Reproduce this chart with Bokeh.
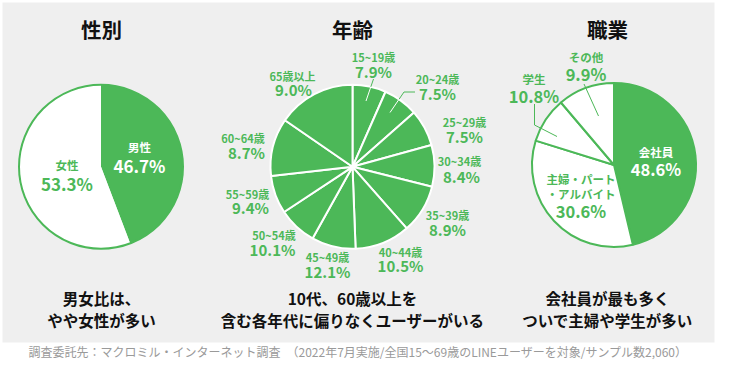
import numpy as np
from bokeh.plotting import figure
from bokeh.models import Range1d
from bokeh.embed import file_html
from bokeh.resources import INLINE
from bokeh.core.properties import value

# ---------------- data ----------------
titles = ["性別", "年齢", "職業"]

gender_names = ["男性", "女性"]
gender_pct = [46.7, 53.3]            # printed values
gender_drawn = [44.2, 55.8]          # slice sizes as drawn in the reference

age_names = ["15~19歳", "20~24歳", "25~29歳", "30~34歳", "35~39歳", "40~44歳",
             "45~49歳", "50~54歳", "55~59歳", "60~64歳", "65歳以上"]
age_pct = [7.9, 7.5, 7.5, 8.4, 8.9, 10.5, 12.1, 10.1, 9.4, 8.7, 9.0]
age_drawn = [6.6, 6.9, 7.2, 8.2, 9.6, 10.9, 8.7, 7.6, 7.5, 11.4, 15.4]

job_names = [["会社員"], ["主婦・パート", "・アルバイト"], ["学生"], ["その他"]]
job_pct = [48.6, 30.6, 10.8, 9.9]
job_drawn = [46.3, 33.5, 9.0, 11.2]

captions = [["男女比は、", "やや女性が多い"],
            ["10代、60歳以上を", "含む各年代に偏りなくユーザーがいる"],
            ["会社員が最も多く", "ついで主婦や学生が多い"]]
footer = "調査委託先：マクロミル・インターネット調査　（2022年7月実施/全国15～69歳のLINEユーザーを対象/サンプル数2,060）"

# ---------------- style / layout ----------------
GREEN = "#4CB858"
PANEL = "#EFEFEF"
FONT = value("Noto Sans CJK JP")
R = 82
CENTERS = [(108.5, 174.3), (360, 174.3), (621.5, 172.5)]   # page pixel coords
TITLE_X = [109, 360, 615]
CAP_X = [109, 360, 615]

W, H = 718, 372
p = figure(width=W, height=H, x_range=Range1d(8, 8 + W), y_range=Range1d(8, 8 + H),
           output_backend="svg", toolbar_location=None, min_border=0)
p.axis.visible = False
p.grid.visible = False
p.outline_line_color = None
p.background_fill_color = "white"
p.border_fill_color = "white"


def Y(sy):
    return 388 - sy


def txt(xs, ys, texts, size, color, bold=True, align="center"):
    p.text(x=list(xs), y=[Y(v) for v in ys], text=list(texts), text_font=FONT,
           text_font_size=size, text_font_style="bold" if bold else "normal",
           text_color=color, text_align=align, text_baseline="middle")


def angles(shares):
    c = np.concatenate([[0], np.cumsum(shares)]) / float(np.sum(shares))
    return np.pi / 2 - 2 * np.pi * c[:-1], np.pi / 2 - 2 * np.pi * c[1:]


def split_at_circle(pts, cx, cy, r):
    """split polyline (page coords) into outside / inside part of circle"""
    a = np.array(pts[-2], float); b = np.array(pts[-1], float)
    ts = np.linspace(0, 1, 400)
    seg = a[None, :] + (b - a)[None, :] * ts[:, None]
    d = np.hypot(seg[:, 0] - cx, seg[:, 1] - cy)
    k = int(np.argmax(d <= r))
    cross = tuple(seg[k])
    return list(pts[:-1]) + [cross], [cross, tuple(b)]


# background panel
p.quad(left=10, right=722, top=Y(10), bottom=Y(350), fill_color=PANEL, line_color=None)

# ---- gender pie ----
cx, cy = CENTERS[0]
s, e = angles(gender_drawn)
p.wedge(x=cx, y=Y(cy), radius=R, start_angle=s, end_angle=e, direction="clock",
        fill_color=[GREEN, "white"], line_color=None)
p.circle(x=cx, y=Y(cy), radius=R, fill_color=None, line_color=GREEN, line_width=2)
g_pos = [(147, 154.5), (74.5, 172.5)]
g_col = ["white", GREEN]
for (x, y), n, v, c in zip(g_pos, gender_names, gender_pct, g_col):
    txt([x], [y], [n], "11.5px", c)
    txt([x], [y + 18], [f"{v:.1f}%"], "17px", c)

# ---- age pie ----
cx, cy = CENTERS[1]
s, e = angles(age_drawn)
p.wedge(x=cx, y=Y(cy), radius=R, start_angle=s, end_angle=e, direction="clock",
        fill_color=GREEN, line_color="white", line_width=2)
a_name = [(381, 64), (445, 86), (472, 129.5), (467, 168.5), (455, 222.5), (408, 259.5),
          (335, 264.5), (281.5, 242.5), (255, 201), (250.5, 145.5), (300, 83)]
a_val = [(381, 78.5), (445, 100.7), (472, 144), (469, 183.5), (455, 237), (408, 273),
         (335, 279), (280, 257), (258, 215), (254, 159.5), (301, 97)]
for (x, y), n in zip(a_name, age_names):
    txt([x], [y], [n], "11px", GREEN)
for (x, y), v in zip(a_val, age_pct):
    txt([x], [y], [f"{v:.1f}%"], "15px", GREEN)
for poly in [[(381, 86.5), (373.5, 108.5)],
             [(422.5, 99.5), (411.5, 99.5), (397.5, 120)]]:
    out, ins = split_at_circle(poly, cx, cy, R)
    p.line([q[0] for q in out], [Y(q[1]) for q in out], line_color=GREEN, line_width=1)
    p.line([q[0] for q in ins], [Y(q[1]) for q in ins], line_color="white", line_width=1)

# ---- occupation pie ----
cx, cy = CENTERS[2]
s, e = angles(job_drawn)
p.wedge(x=cx, y=Y(cy), radius=R, start_angle=s, end_angle=e, direction="clock",
        fill_color=[GREEN, "white", "white", "white"], line_color=GREEN, line_width=2)
j_pos = [(663.5, 159), (588.5, 186.5), (541.5, 86), (593.5, 64)]
j_col = ["white", GREEN, GREEN, GREEN]
for (x, y), names, v, c in zip(j_pos, job_names, job_pct, j_col):
    for i, n in enumerate(names):
        txt([x], [y + 15 * i], [n], "11.5px", c)
    txt([x], [y + 15 * len(names) + 2], [f"{v:.1f}%"], "16.5px", c)
for poly in [[(542, 111.5), (542, 132.5), (564.5, 144)],
             [(591.5, 91.5), (606, 123.5)]]:
    p.line([q[0] for q in poly], [Y(q[1]) for q in poly], line_color=GREEN, line_width=1)

# ---- titles, captions, footer ----
txt(TITLE_X, [36.5] * 3, titles, "20.5px", "#111111")
for x, lines in zip(CAP_X, captions):
    txt([x, x], [305.5, 327.5], lines, "15.5px", "#111111")
txt([36], [358.5], [footer], "12px", "#9A9A9A", bold=False, align="left")

open("out.html", "w").write(file_html(p, INLINE))
